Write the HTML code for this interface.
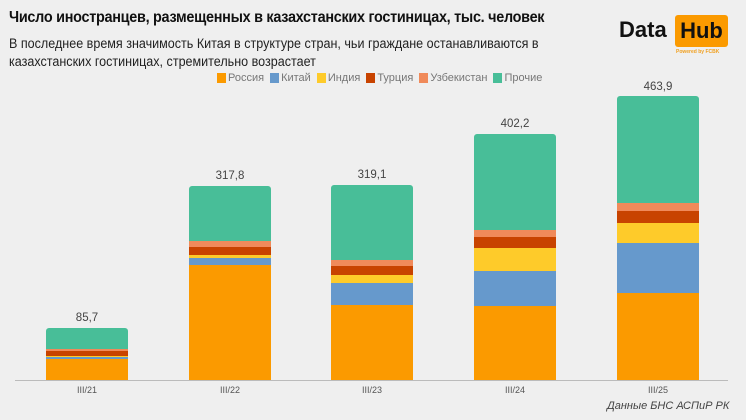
<!DOCTYPE html><html><head><meta charset="utf-8"><style>
body{margin:0;width:746px;height:420px;background:#efefef;font-family:"Liberation Sans",sans-serif;position:relative;overflow:hidden}
.a{position:absolute}
.t{left:9px;top:9px;font-size:15.5px;font-weight:bold;color:#111;letter-spacing:-0.3px;transform:scaleX(0.93);transform-origin:left}
.s{left:9px;top:35px;font-size:13.5px;color:#222;line-height:18px;transform:scaleX(0.93);transform-origin:left;width:600px}
.lg{top:72px;font-size:11px;color:#777;display:flex;align-items:center;left:211px}
.lg span{display:inline-block;width:9px;height:10px;margin:0 2px 0 6px}
.bar{position:absolute;width:82px}
.bar div{position:absolute;left:0;width:100%}
.v{font-size:11.5px;color:#444;text-align:center;width:82px}
.x{font-size:9px;color:#555;text-align:center;width:82px;top:385px}
</style></head><body>
<div class="a t">Число иностранцев, размещенных в казахстанских гостиницах, тыс. человек</div>
<div class="a s">В последнее время значимость Китая в структуре стран, чьи граждане останавливаются в казахстанских гостиницах, стремительно возрастает</div>
<div class="a lg"><span style="background:#fb9a00"></span>Россия<span style="background:#6699cc"></span>Китай<span style="background:#fecb2a"></span>Индия<span style="background:#c84300"></span>Турция<span style="background:#f08a5a"></span>Узбекистан<span style="background:#48be98"></span>Прочие</div>
<div class="a" style="left:619px;top:17px;font-size:22px;font-weight:bold;color:#111">Data</div>
<div class="a" style="left:675px;top:15px;width:53px;height:32px;background:#fb9a00;border-radius:3px;font-size:22px;font-weight:bold;color:#111;text-align:center;line-height:32px">Hub</div>
<div class="a" style="left:676px;top:49px;font-size:5px;color:#f0a020;font-weight:bold">Powered by FCBK</div>
<div class="a" style="left:15px;top:380px;width:713px;height:1px;background:#bbb"></div>

<div class="bar" style="left:46px;top:328px;height:52px">
<div style="top:0;height:21px;background:#48be98;border-radius:3px 3px 0 0"></div>
<div style="top:21px;height:2px;background:#f08a5a"></div>
<div style="top:23px;height:5px;background:#c84300"></div>
<div style="top:28px;height:1px;background:#fecb2a"></div>
<div style="top:29px;height:2px;background:#6699cc"></div>
<div style="top:31px;height:21px;background:#fb9a00"></div></div>

<div class="bar" style="left:189px;top:186px;height:194px">
<div style="top:0;height:55px;background:#48be98;border-radius:3px 3px 0 0"></div>
<div style="top:55px;height:6px;background:#f08a5a"></div>
<div style="top:61px;height:8px;background:#c84300"></div>
<div style="top:69px;height:3px;background:#fecb2a"></div>
<div style="top:72px;height:7px;background:#6699cc"></div>
<div style="top:79px;height:115px;background:#fb9a00"></div></div>

<div class="bar" style="left:331px;top:185px;height:195px">
<div style="top:0;height:75px;background:#48be98;border-radius:3px 3px 0 0"></div>
<div style="top:75px;height:6px;background:#f08a5a"></div>
<div style="top:81px;height:9px;background:#c84300"></div>
<div style="top:90px;height:8px;background:#fecb2a"></div>
<div style="top:98px;height:22px;background:#6699cc"></div>
<div style="top:120px;height:75px;background:#fb9a00"></div></div>

<div class="bar" style="left:474px;top:134px;height:246px">
<div style="top:0;height:96px;background:#48be98;border-radius:3px 3px 0 0"></div>
<div style="top:96px;height:7px;background:#f08a5a"></div>
<div style="top:103px;height:11px;background:#c84300"></div>
<div style="top:114px;height:23px;background:#fecb2a"></div>
<div style="top:137px;height:35px;background:#6699cc"></div>
<div style="top:172px;height:74px;background:#fb9a00"></div></div>

<div class="bar" style="left:617px;top:96px;height:284px">
<div style="top:0;height:107px;background:#48be98;border-radius:3px 3px 0 0"></div>
<div style="top:107px;height:8px;background:#f08a5a"></div>
<div style="top:115px;height:12px;background:#c84300"></div>
<div style="top:127px;height:20px;background:#fecb2a"></div>
<div style="top:147px;height:50px;background:#6699cc"></div>
<div style="top:197px;height:87px;background:#fb9a00"></div></div>

<div class="a v" style="left:46px;top:312px">85,7</div>
<div class="a v" style="left:189px;top:170px">317,8</div>
<div class="a v" style="left:331px;top:169px">319,1</div>
<div class="a v" style="left:474px;top:118px">402,2</div>
<div class="a v" style="left:617px;top:81px">463,9</div>
<div class="a x" style="left:46px">III/21</div>
<div class="a x" style="left:189px">III/22</div>
<div class="a x" style="left:331px">III/23</div>
<div class="a x" style="left:474px">III/24</div>
<div class="a x" style="left:617px">III/25</div>
<div class="a" style="left:607px;top:400px;font-size:11px;font-style:italic;color:#444">Данные БНС АСПиР РК</div>
</body></html>
